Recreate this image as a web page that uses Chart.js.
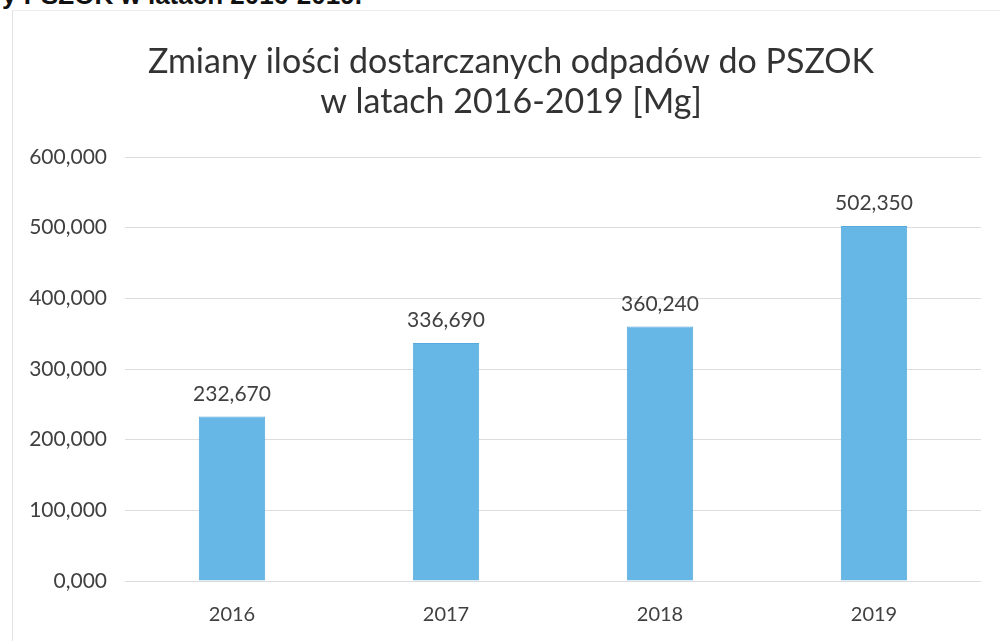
<!DOCTYPE html>
<html>
<head>
<meta charset="utf-8">
<script src="https://cdn.jsdelivr.net/npm/chart.js@4"></script>
<style>
  body { margin: 0; background: #fff; overflow: hidden; }
  #wrap { position: relative; width: 1000px; height: 641px; }
  #caption {
    position: absolute; left: 2px; top: -20px;
    font: bold 26px "Liberation Sans", Arial, sans-serif; color: #111;
    white-space: nowrap;
  }
  #frame {
    position: absolute; left: 12px; top: 10px; width: 1100px; height: 700px;
    border-left: 1px solid #e2e2e2; border-top: 1px solid #ececec;
  }
  canvas { position: absolute; left: 0; top: 0; }
</style>
</head>
<body>
<div id="wrap">
  <div id="caption">y PSZOK w latach 2016-2019.</div>
  <div id="frame"></div>
  <canvas id="chart" width="1000" height="641"></canvas>
</div>
<script>
const years = ["2016", "2017", "2018", "2019"];
const tonnes = [232.670, 336.690, 360.240, 502.350];
const titleLines = ["Zmiany ilości dostarczanych odpadów do PSZOK", "w latach 2016-2019 [Mg]"];

const fmt = v => Number(v).toFixed(3).replace(".", ",");

// value labels above bars + title (drawn by hand so it can sit off-centre like the original)
const extras = {
  id: "extras",
  afterDatasetsDraw(chart) {
    const ctx = chart.ctx;
    const meta = chart.getDatasetMeta(0);
    ctx.save();
    ctx.font = "21px Lato";
    ctx.fillStyle = "#404040";
    ctx.textAlign = "center";
    ctx.textBaseline = "bottom";
    meta.data.forEach((bar, i) => {
      ctx.fillText(fmt(tonnes[i]), bar.x, bar.y - 12);
    });

    ctx.font = "34px Lato";
    ctx.fillStyle = "#333";
    ctx.textBaseline = "middle";
    titleLines.forEach((line, i) => ctx.fillText(line, 511, 62 + i * 40));
    ctx.restore();
  }
};

new Chart(document.getElementById("chart"), {
  type: "bar",
  data: {
    labels: years,
    datasets: [{
      data: tonnes,
      backgroundColor: "#66b6e6",
      borderColor: "#58aadc",
      borderWidth: 1,
      barPercentage: 0.31,
      categoryPercentage: 1
    }]
  },
  options: {
    responsive: false,
    animation: false,
    layout: { padding: { top: 157, right: 19, left: 0, bottom: 0 } },
    plugins: {
      legend: { display: false },
      tooltip: { enabled: false },
      title: { display: false }
    },
    scales: {
      x: {
        grid: { display: false },
        border: { display: false },
        ticks: { color: "#404040", font: { family: "Lato", size: 20 }, padding: 14 },
        afterFit(s) { s.height = 60; }
      },
      y: {
        min: 0, max: 600,
        ticks: { stepSize: 100, color: "#404040", font: { family: "Lato", size: 21 }, padding: 18, callback: v => fmt(v) },
        grid: { color: "#dcdcdc", lineWidth: 1, drawTicks: false },
        border: { display: false },
        afterFit(s) { s.width = 125; }
      }
    }
  },
  plugins: [extras]
});
</script>
</body>
</html>
